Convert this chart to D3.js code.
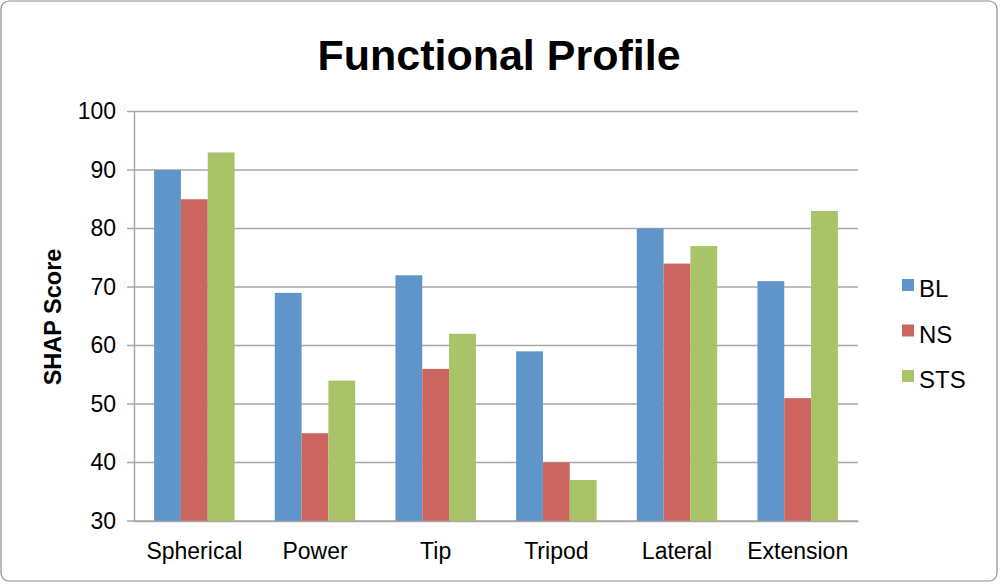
<!DOCTYPE html>
<html><head><meta charset="utf-8">
<script src="https://cdn.jsdelivr.net/npm/d3@7"></script>
<style>body{margin:0;background:#fff}svg{display:block;font-family:"Liberation Sans",Arial,sans-serif}</style>
</head><body>
<svg id="c" width="1000" height="584"></svg>
<script>
const categories = ["Spherical","Power","Tip","Tripod","Lateral","Extension"];
const seriesNames = ["BL","NS","STS"];
const BL = [90,69,72,59,80,71];
const NS = [85,45,56,40,74,51];
const STS = [93,54,62,37,77,83];
const yTicks = [30,40,50,60,70,80,90,100];
const colors = ["#5F95C9","#CC6460","#A9C369"];
const seriesVals = [BL, NS, STS];

(function(){
const svg = d3.select("#c");
svg.append("rect").attr("x",1).attr("y",1).attr("width",996).attr("height",580)
  .attr("rx",8).attr("fill","#fff").attr("stroke","#8c8c8c").attr("stroke-width",1.2);

const pl=134, pr=858, pt=111.5, pb=521;
const x = d3.scaleBand().domain(categories).range([pl,pr]).paddingInner(0).paddingOuter(0);
const y = d3.scaleLinear().domain([30,100]).range([pb,pt]);
const barW = x.bandwidth()/4.5;

svg.append("g").selectAll("line").data(yTicks).join("line")
  .attr("x1",pl-7).attr("x2",pr).attr("y1",d=>y(d)).attr("y2",d=>y(d))
  .attr("stroke","#a8a8a8").attr("stroke-width",1.5);

const yAxis = svg.append("g").attr("transform",`translate(${pl},0)`)
  .call(d3.axisLeft(y).tickValues(yTicks).tickSize(0).tickPadding(18));
yAxis.select(".domain").attr("stroke","#a8a8a8").attr("stroke-width",1.5);
yAxis.selectAll("text").attr("font-size",23).attr("fill","#000").attr("font-family","Liberation Sans, Arial, sans-serif");

const g = svg.append("g");
seriesVals.forEach((vals,si)=>{
  g.selectAll(null).data(categories).join("rect")
    .attr("x",c=>x(c)+x.bandwidth()/2-1.5*barW+si*barW)
    .attr("y",(c,i)=>y(vals[i]))
    .attr("width",barW)
    .attr("height",(c,i)=>y(30)-y(vals[i]))
    .attr("fill",colors[si]);
});

const xAxis = svg.append("g").attr("transform",`translate(0,${pb})`)
  .call(d3.axisBottom(x).tickSize(0).tickPadding(22));
xAxis.select(".domain").attr("stroke","#a8a8a8").attr("stroke-width",1.5);
xAxis.selectAll("text").attr("font-size",23).attr("fill","#000").attr("font-family","Liberation Sans, Arial, sans-serif");

svg.append("text").attr("x",499).attr("y",70).attr("text-anchor","middle")
  .attr("font-size",43).attr("font-weight","bold").text("Functional Profile");

svg.append("text").attr("transform","translate(61,317) rotate(-90)").attr("text-anchor","middle")
  .attr("font-size",23.5).attr("font-weight","bold").text("SHAP Score");

const lg = svg.append("g");
seriesNames.forEach((n,i)=>{
  const top0 = 279 + i*45.5;
  lg.append("rect").attr("x",902).attr("y",top0).attr("width",12).attr("height",12).attr("fill",colors[i]);
  lg.append("text").attr("x",919).attr("y",top0+18).attr("font-size",24).text(n);
});
})();
</script>
</body></html>
